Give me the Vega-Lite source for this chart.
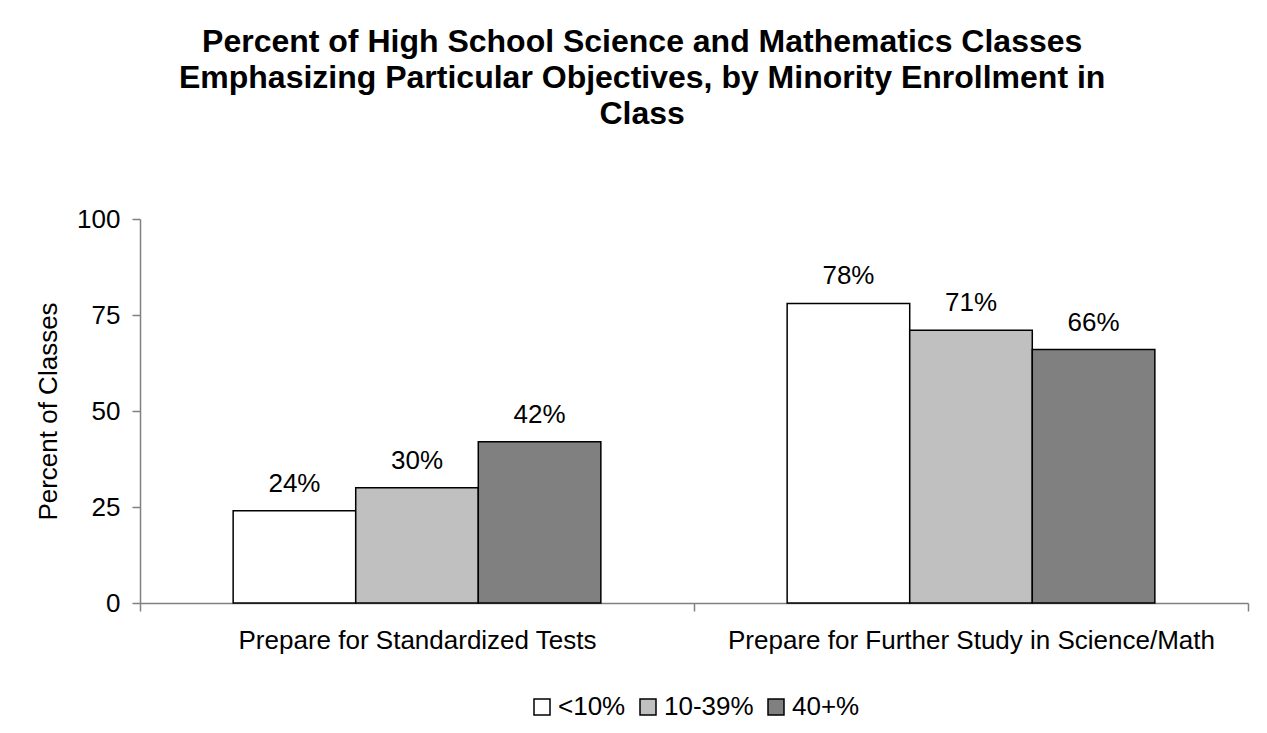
{
  "$schema": "https://vega.github.io/schema/vega-lite/v6.json",
  "width": 1108,
  "height": 384,
  "autosize": {"type": "none"},
  "padding": {"left": 140, "top": 219, "right": 19, "bottom": 130},
  "background": "white",
  "config": {
    "font": "Liberation Sans",
    "view": {"stroke": null},
    "legend": {"layout": {"bottom": {"anchor": "middle"}}}
  },
  "title": {
    "text": ["Percent of High School Science and Mathematics Classes", "Emphasizing Particular Objectives, by Minority Enrollment in", "Class"],
    "font": "Liberation Sans",
    "fontSize": 32,
    "fontWeight": "bold",
    "lineHeight": 36,
    "color": "black",
    "anchor": "middle",
    "frame": "bounds",
    "offset": 75
  },
  "data": {
    "values": [
      {"objective": "Prepare for Standardized Tests", "group": "<10%", "pct": 24, "label": "24%"},
      {"objective": "Prepare for Standardized Tests", "group": "10-39%", "pct": 30, "label": "30%"},
      {"objective": "Prepare for Standardized Tests", "group": "40+%", "pct": 42, "label": "42%"},
      {"objective": "Prepare for Further Study in Science/Math", "group": "<10%", "pct": 78, "label": "78%"},
      {"objective": "Prepare for Further Study in Science/Math", "group": "10-39%", "pct": 71, "label": "71%"},
      {"objective": "Prepare for Further Study in Science/Math", "group": "40+%", "pct": 66, "label": "66%"}
    ]
  },
  "encoding": {
    "x": {
      "field": "objective",
      "type": "nominal",
      "sort": ["Prepare for Standardized Tests", "Prepare for Further Study in Science/Math"],
      "scale": {"paddingInner": 0, "paddingOuter": 0},
      "axis": {
        "title": null,
        "tickBand": "extent",
        "labelAngle": 0,
        "labelFontSize": 26,
        "labelLimit": 0,
        "labelColor": "black",
        "labelPadding": 16,
        "tickSize": 8,
        "tickColor": "#808080",
        "domainColor": "#808080",
        "domainWidth": 1.5,
        "tickWidth": 1.5
      }
    },
    "xOffset": {
      "field": "group",
      "type": "nominal",
      "sort": ["<10%", "10-39%", "40+%"],
      "scale": {"paddingInner": 0, "paddingOuter": 0.76}
    },
    "y": {
      "field": "pct",
      "type": "quantitative",
      "scale": {"domain": [0, 100]},
      "axis": {
        "title": "Percent of Classes",
        "titleFontSize": 26,
        "titleFontWeight": "normal",
        "titleColor": "black",
        "titlePadding": 15,
        "values": [0, 25, 50, 75, 100],
        "grid": false,
        "labelFontSize": 26,
        "labelColor": "black",
        "labelPadding": 12,
        "tickSize": 8,
        "tickColor": "#808080",
        "domainColor": "#808080",
        "domainWidth": 1.5,
        "tickWidth": 1.5
      }
    }
  },
  "layer": [
    {
      "mark": {"type": "bar", "stroke": "black", "strokeWidth": 1.5},
      "encoding": {
        "fill": {
          "field": "group",
          "type": "nominal",
          "sort": ["<10%", "10-39%", "40+%"],
          "scale": {"domain": ["<10%", "10-39%", "40+%"], "range": ["#ffffff", "#c0c0c0", "#808080"]},
          "legend": {
            "title": null,
            "orient": "bottom",
            "direction": "horizontal",
            "symbolType": "square",
            "symbolSize": 256,
            "symbolStrokeColor": "black",
            "symbolStrokeWidth": 1.5,
            "labelFontSize": 26,
            "labelColor": "black",
            "labelOffset": 3,
            "columnPadding": 9,
            "offset": 41
          }
        }
      }
    },
    {
      "mark": {"type": "text", "baseline": "alphabetic", "dy": -19, "fontSize": 26, "color": "black"},
      "encoding": {
        "text": {"field": "label", "type": "nominal"},
        "detail": {"field": "group"}
      }
    }
  ]
}
